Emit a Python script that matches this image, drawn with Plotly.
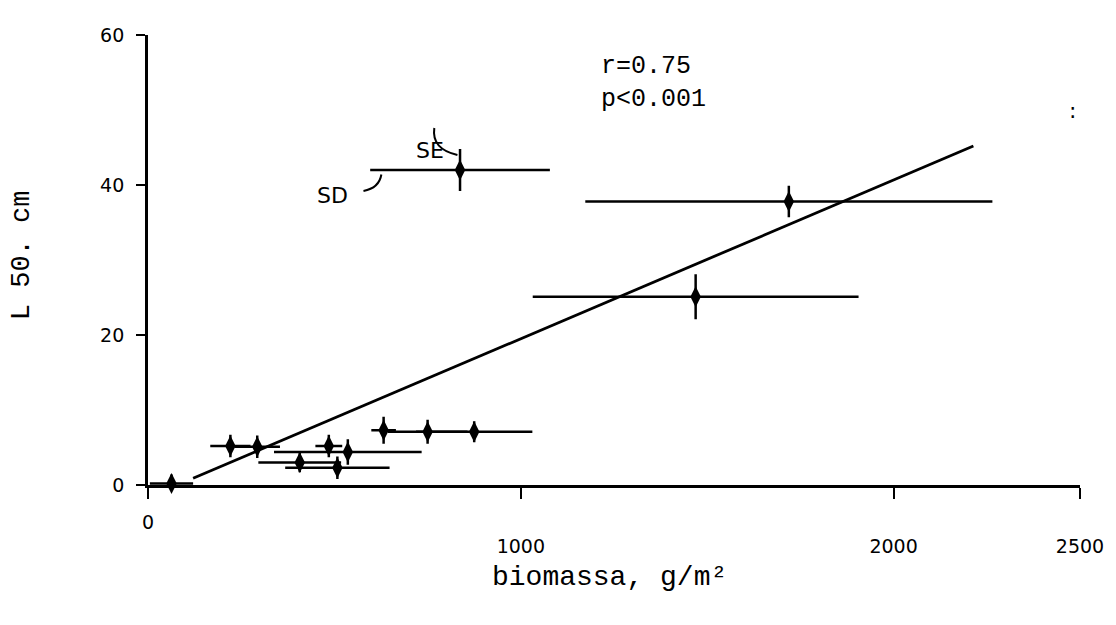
import plotly.graph_objects as go

# data
biomass = [63, 221, 293, 407, 485, 508, 536, 632, 750, 875, 837, 1469, 1719]
l50 = [0.2, 5.2, 5.1, 3.0, 5.2, 2.3, 4.4, 7.3, 7.1, 7.1, 42.0, 25.1, 37.8]
sd = [58, 54, 61, 111, 36, 140, 198, 33, 107, 156, 241, 437, 546]
se = [1.2, 1.5, 1.5, 1.3, 1.5, 1.5, 1.7, 1.8, 1.6, 1.4, 2.8, 3.0, 2.1]
reg_x = [121, 2214]
reg_y = [0.9, 45.2]
x_ticks = [0, 1000, 2000, 2500]
x_ticktext = ["", "1000", "2000", "2500"]
y_ticks = [0, 20, 40, 60]
y_ticktext = ["0", "20", "40", "60"]

MONO = "Liberation Mono"
HAND = "DejaVu Sans"

fig = go.Figure()
fig.add_trace(go.Scatter(
    x=reg_x, y=reg_y, mode="lines",
    line=dict(color="black", width=2.8), cliponaxis=False, showlegend=False))
fig.add_trace(go.Scatter(
    x=biomass, y=l50, mode="markers",
    marker=dict(symbol="diamond-tall", size=15, color="black"),
    error_x=dict(type="data", array=sd, visible=True, width=0, thickness=2.5, color="black"),
    error_y=dict(type="data", array=se, visible=True, width=0, thickness=2.5, color="black"),
    cliponaxis=False, showlegend=False))

fig.update_layout(
    width=1116, height=625,
    margin=dict(l=148, r=34, t=35, b=140),
    paper_bgcolor="white", plot_bgcolor="white",
    xaxis=dict(range=[0, 2500], tickvals=x_ticks, ticktext=x_ticktext,
               showline=True, linecolor="black", linewidth=2.8,
               ticks="outside", ticklen=11, tickwidth=2, tickcolor="black",
               showgrid=False, zeroline=False,
               ticklabelstandoff=31,
               tickfont=dict(family=HAND, size=19, color="black")),
    yaxis=dict(range=[0, 60], tickvals=y_ticks, ticktext=y_ticktext,
               showline=True, linecolor="black", linewidth=2.8,
               ticks="outside", ticklen=9, tickwidth=2, tickcolor="black",
               showgrid=False, zeroline=False,
               ticklabelstandoff=8,
               tickfont=dict(family=HAND, size=19, color="black")),
)

annots = [
    dict(text="L 50. cm", xref="paper", yref="paper", x=-0.135, y=0.511,
         xanchor="center", yanchor="middle",
         textangle=-90, font=dict(family=MONO, size=27, color="black"),
         showarrow=False),
    dict(text="biomassa, g/m²", xref="paper", yref="paper", x=0.495, y=-0.205,
         xanchor="center", yanchor="middle",
         font=dict(family=MONO, size=28, color="black"), showarrow=False),
    dict(text="r=0.75<br>p<0.001", xref="x", yref="y", x=1210, y=53.55,
         xanchor="left", yanchor="middle", align="left",
         font=dict(family=MONO, size=25, color="black"), showarrow=False),
    dict(text="0", xref="x", yref="paper", x=0, y=-0.083,
         xanchor="center", yanchor="middle",
         font=dict(family=HAND, size=19, color="black"), showarrow=False),
    dict(text="SE", xref="x", yref="y", x=757, y=44.6, xanchor="center", yanchor="middle",
         font=dict(family=HAND, size=22, color="black"), showarrow=False),
    dict(text="SD", xref="x", yref="y", x=495, y=38.6, xanchor="center", yanchor="middle",
         font=dict(family=HAND, size=22, color="black"), showarrow=False),
    dict(text=":", xref="x", yref="y", x=2481, y=50, xanchor="center", yanchor="middle",
         font=dict(family=HAND, size=22, color="black"), showarrow=False),
]
fig.update_layout(annotations=annots)

fig.add_shape(type="path", xref="x", yref="y",
              path="M 768,47.6 Q 760,44.8 830,44.0",
              line=dict(color="black", width=2))
fig.add_shape(type="path", xref="x", yref="y",
              path="M 578,39.2 Q 620,39.6 626,41.4",
              line=dict(color="black", width=2))

fig.write_html("out.html")
